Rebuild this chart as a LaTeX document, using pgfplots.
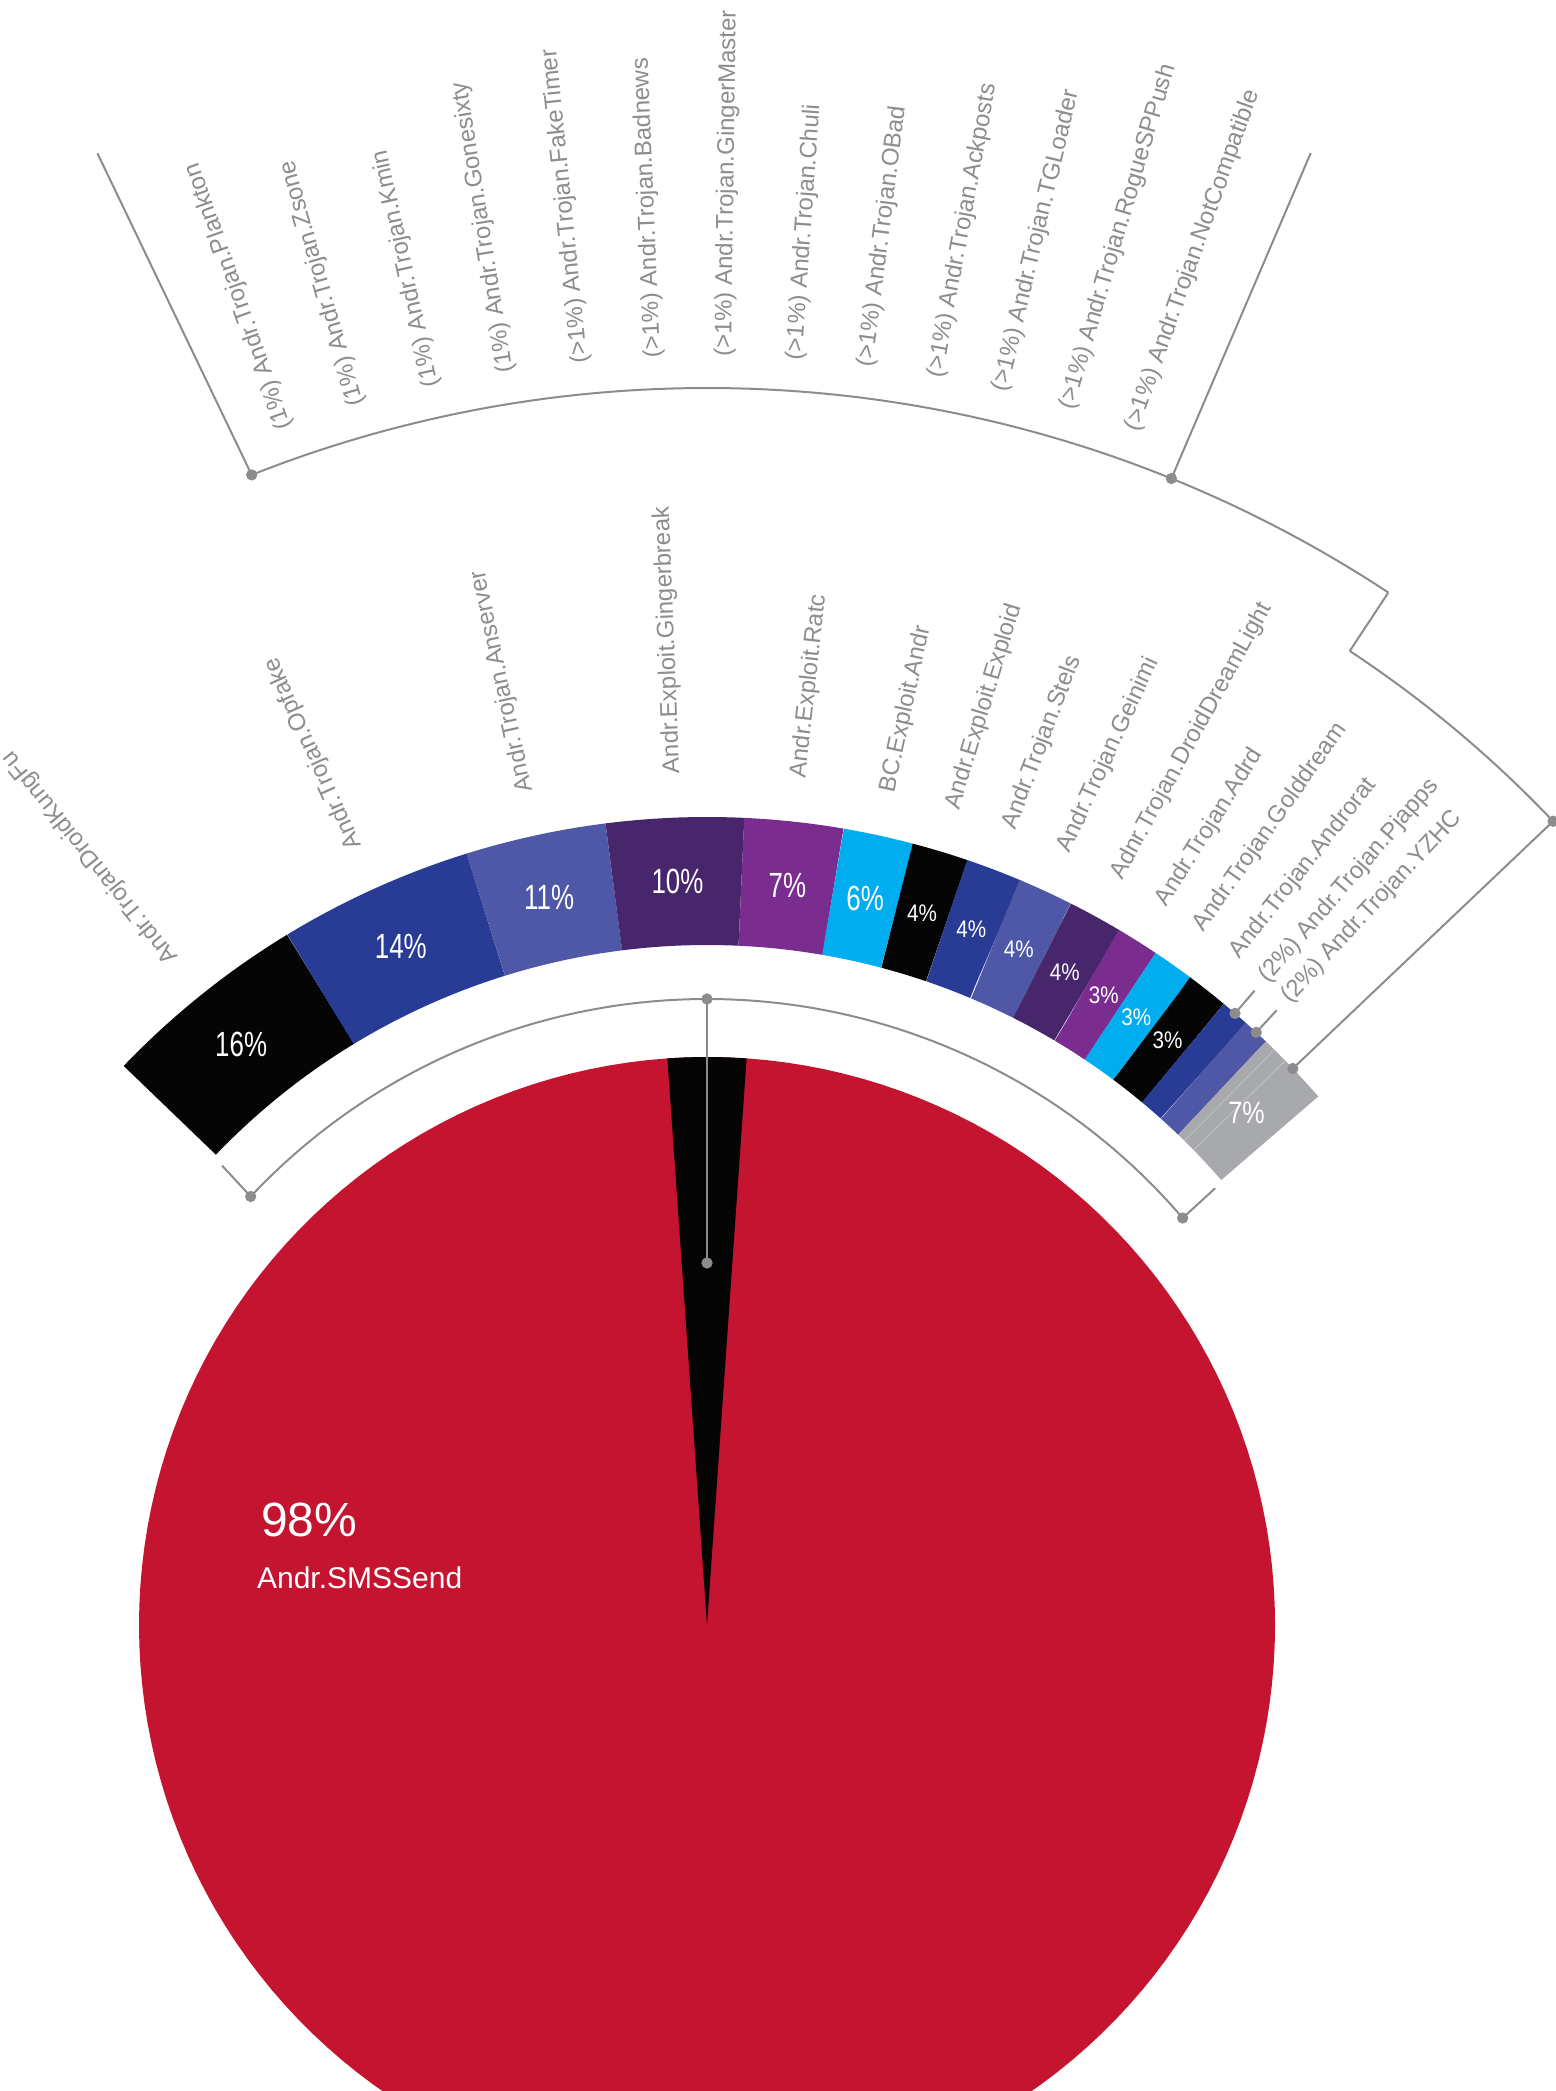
\documentclass[border=0pt]{standalone}
\usepackage{graphicx}
\usepackage{fontspec}
\setmainfont{Liberation Sans}
\usepackage{pgfplots}
\pgfplotsset{compat=1.18}

\definecolor{pieRed}{HTML}{C41430}
\definecolor{cBlack}{HTML}{050505}
\definecolor{cDBlue}{HTML}{283C96}
\definecolor{cSlate}{HTML}{4F58A6}
\definecolor{cDPurple}{HTML}{47266B}
\definecolor{cPurple}{HTML}{7A2D8F}
\definecolor{cCyan}{HTML}{00AEEF}
\definecolor{cGray}{HTML}{A7A9AC}
\definecolor{cGrayLine}{HTML}{BBBCBF}
\definecolor{lblGray}{HTML}{8C8C91}
\definecolor{lineGray}{HTML}{8C8C8C}

% ring segment: start angle, end angle (degrees), colour
\newcommand{\seg}[3]{\addplot[draw=#3, line width=64pt, domain=#2:#1, samples=40, variable=\t] ({744*cos(t)},{744*sin(t)});}
% percent label: angle, size, horizontal scale, text
\newcommand{\pct}[4]{\path (axis cs:0,0) ++(#1:372pt) node[text=white, inner sep=0pt, font=\fontsize{#2}{#2}\selectfont] {\scalebox{#3}[1]{#4}};}
% radial gray label: angle, radius, text
\newcommand{\glab}[3]{\path (axis cs:0,0) ++(#1:#2) node[rotate=#1, anchor=west, inner sep=0pt, text=lblGray, font=\fontsize{12pt}{14pt}\selectfont] {#3};}

\begin{document}
\begin{tikzpicture}
\begin{axis}[
  scale only axis, width=777.5pt, height=1045.5pt,
  xmin=-707, xmax=848, ymin=-466, ymax=1625,
  hide axis, clip=true,
]
% ---- big pie: 98% Andr.SMSSend, rest black sliver
\addplot[fill=pieRed, draw=none, domain=0:360, samples=181, variable=\t] ({568*cos(t)},{568*sin(t)});
\addplot[fill=cBlack, draw=none, data cs=polar] coordinates {(0,0) (86,568) (88,568) (90,568) (92,568) (94,568)};

% ---- outer ring (angles)
\seg{136.23}{121.30}{cBlack}   % 16% DroidKungFu
\seg{121.30}{107.30}{cDBlue}   % 14% Opfake
\seg{107.30}{97.20}{cSlate}    % 11% Anserver
\seg{97.20}{87.35}{cDPurple}   % 10% Gingerbreak
\seg{87.35}{80.25}{cPurple}    % 7% Ratc
\seg{80.25}{75.20}{cCyan}      % 6% BC.Exploit.Andr
\seg{75.20}{71.20}{cBlack}     % 4% Exploid
\seg{71.20}{67.20}{cDBlue}     % 4% Stels
\seg{67.20}{63.23}{cSlate}     % 4% Geinimi
\seg{63.23}{59.29}{cDPurple}   % 4% DroidDreamLight
\seg{59.29}{56.26}{cPurple}    % 3% Adrd
\seg{56.26}{53.27}{cCyan}      % 3% Golddream
\seg{53.27}{50.23}{cBlack}     % 3% Androrat
\seg{50.23}{48.16}{cDBlue}     % 2% Pjapps
\seg{48.16}{46.20}{cSlate}     % 2% YZHC
\seg{46.20}{40.86}{cGray}      % 7% others
\addplot[cGrayLine, line width=0.6pt, data cs=polar] coordinates {(45.4,680) (45.4,808)};
\addplot[cGrayLine, line width=0.6pt, data cs=polar] coordinates {(44.3,680) (44.3,808)};

% ---- inner bracket
\addplot[lineGray, line width=1pt, domain=40.55:136.8, samples=120, variable=\t] ({626*cos(t)},{626*sin(t)});
\addplot[lineGray, line width=1pt, data cs=polar] coordinates {(90,362) (90,626)};
\addplot[lineGray, line width=1pt, data cs=polar] coordinates {(136.8,626) (136.55,668)};
\addplot[lineGray, line width=1pt, data cs=polar] coordinates {(40.55,626) (40.68,670)};

% ---- outer bracket for the small families
\addplot[lineGray, line width=1pt, data cs=polar] coordinates {(43.53,808) (43.53,1167)};
\addplot[lineGray, line width=1pt, domain=43.53:56.58, samples=30, variable=\t] ({1167*cos(t)},{1167*sin(t)});
\addplot[lineGray, line width=1pt, data cs=polar] coordinates {(56.58,1167) (56.58,1237)};
\addplot[lineGray, line width=1pt, domain=56.58:111.6, samples=120, variable=\t] ({1237*cos(t)},{1237*sin(t)});
\addplot[lineGray, line width=1pt, data cs=polar] coordinates {(111.6,1237) (112.5,1593)};
\addplot[lineGray, line width=1pt, data cs=polar] coordinates {(67.95,1237) (67.7,1591)};
\addplot[lineGray, line width=1pt, data cs=polar] coordinates {(49.2,808) (49.2,838)};
\addplot[lineGray, line width=1pt, data cs=polar] coordinates {(47.18,808) (47.18,838)};

% ---- dots
\addplot[only marks, mark=*, mark size=2.6pt, color=lineGray, data cs=polar] coordinates {
 (90,362) (90,626) (136.8,626) (40.55,626)
 (111.6,1237) (67.95,1237) (43.53,1167) (43.53,808) (49.2,808) (47.18,808)};

% ---- percentages in the ring
\pct{128.77}{17.5pt}{0.74}{16\%}
\pct{114.30}{17.5pt}{0.74}{14\%}
\pct{102.25}{17.5pt}{0.74}{11\%}
\pct{92.28}{17.5pt}{0.74}{10\%}
\pct{83.80}{17.5pt}{0.74}{7\%}
\pct{77.73}{17.5pt}{0.74}{6\%}
\pct{73.20}{12pt}{0.86}{4\%}
\pct{69.20}{12pt}{0.86}{4\%}
\pct{65.22}{12pt}{0.86}{4\%}
\pct{61.26}{12pt}{0.86}{4\%}
\pct{57.78}{12pt}{0.86}{3\%}
\pct{54.77}{12pt}{0.86}{3\%}
\pct{51.75}{12pt}{0.86}{3\%}
\pct{43.53}{15.5pt}{0.81}{7\%}

% ---- ring labels
\glab{128.77}{426pt}{Andr.TrojanDroidKungFu}
\glab{114.30}{426pt}{Andr.Trojan.Opfake}
\glab{102.25}{426pt}{Andr.Trojan.Anserver}
\glab{92.28}{426pt}{Andr.Exploit.Gingerbreak}
\glab{83.80}{426pt}{Andr.Exploit.Ratc}
\glab{77.73}{426pt}{BC.Exploit.Andr}
\glab{73.20}{426pt}{Andr.Exploit.Exploid}
\glab{69.20}{426pt}{Andr.Trojan.Stels}
\glab{65.22}{426pt}{Andr.Trojan.Geinimi}
\glab{61.26}{426pt}{Adnr.Trojan.DroidDreamLight}
\glab{57.78}{426pt}{Andr.Trojan.Adrd}
\glab{54.77}{426pt}{Andr.Trojan.Golddream}
\glab{51.75}{426pt}{Andr.Trojan.Androrat}
\glab{49.20}{426pt}{(2\%) Andr.Trojan.Pjapps}
\glab{47.18}{426pt}{(2\%) Andr.Trojan.YZHC}

% ---- labels of the grey 7%
\glab{109.4}{634pt}{(1\%) Andr.Trojan.Plankton}
\glab{106.0}{634pt}{(1\%) Andr.Trojan.Zsone}
\glab{102.5}{634pt}{(1\%) Andr.Trojan.Kmin}
\glab{99.1}{634pt}{(1\%) Andr.Trojan.Gonesixty}
\glab{95.7}{634pt}{(>1\%) Andr.Trojan.FakeTimer}
\glab{92.4}{634pt}{(>1\%) Andr.Trojan.Badnews}
\glab{89.2}{634pt}{(>1\%) Andr.Trojan.GingerMaster}
\glab{86.0}{634pt}{(>1\%) Andr.Trojan.Chuli}
\glab{82.8}{634pt}{(>1\%) Andr.Trojan.OBad}
\glab{79.6}{634pt}{(>1\%) Andr.Trojan.Ackposts}
\glab{76.6}{634pt}{(>1\%) Andr.Trojan.TGLoader}
\glab{73.5}{634pt}{(>1\%) Andr.Trojan.RogueSPPush}
\glab{70.4}{634pt}{(>1\%) Andr.Trojan.NotCompatible}

% ---- main slice text
\node[anchor=base west, inner sep=0pt, text=white, font=\fontsize{24pt}{24pt}\selectfont] at (axis cs:-446.3,88.3) {98\%};
\node[anchor=base west, inner sep=0pt, text=white, font=\fontsize{15pt}{15pt}\selectfont] at (axis cs:-450.3,36.7) {Andr.SMSSend};
\end{axis}
\pgfresetboundingbox
\path[use as bounding box] (current axis.south west) rectangle (current axis.north east);
\end{tikzpicture}
\end{document}
